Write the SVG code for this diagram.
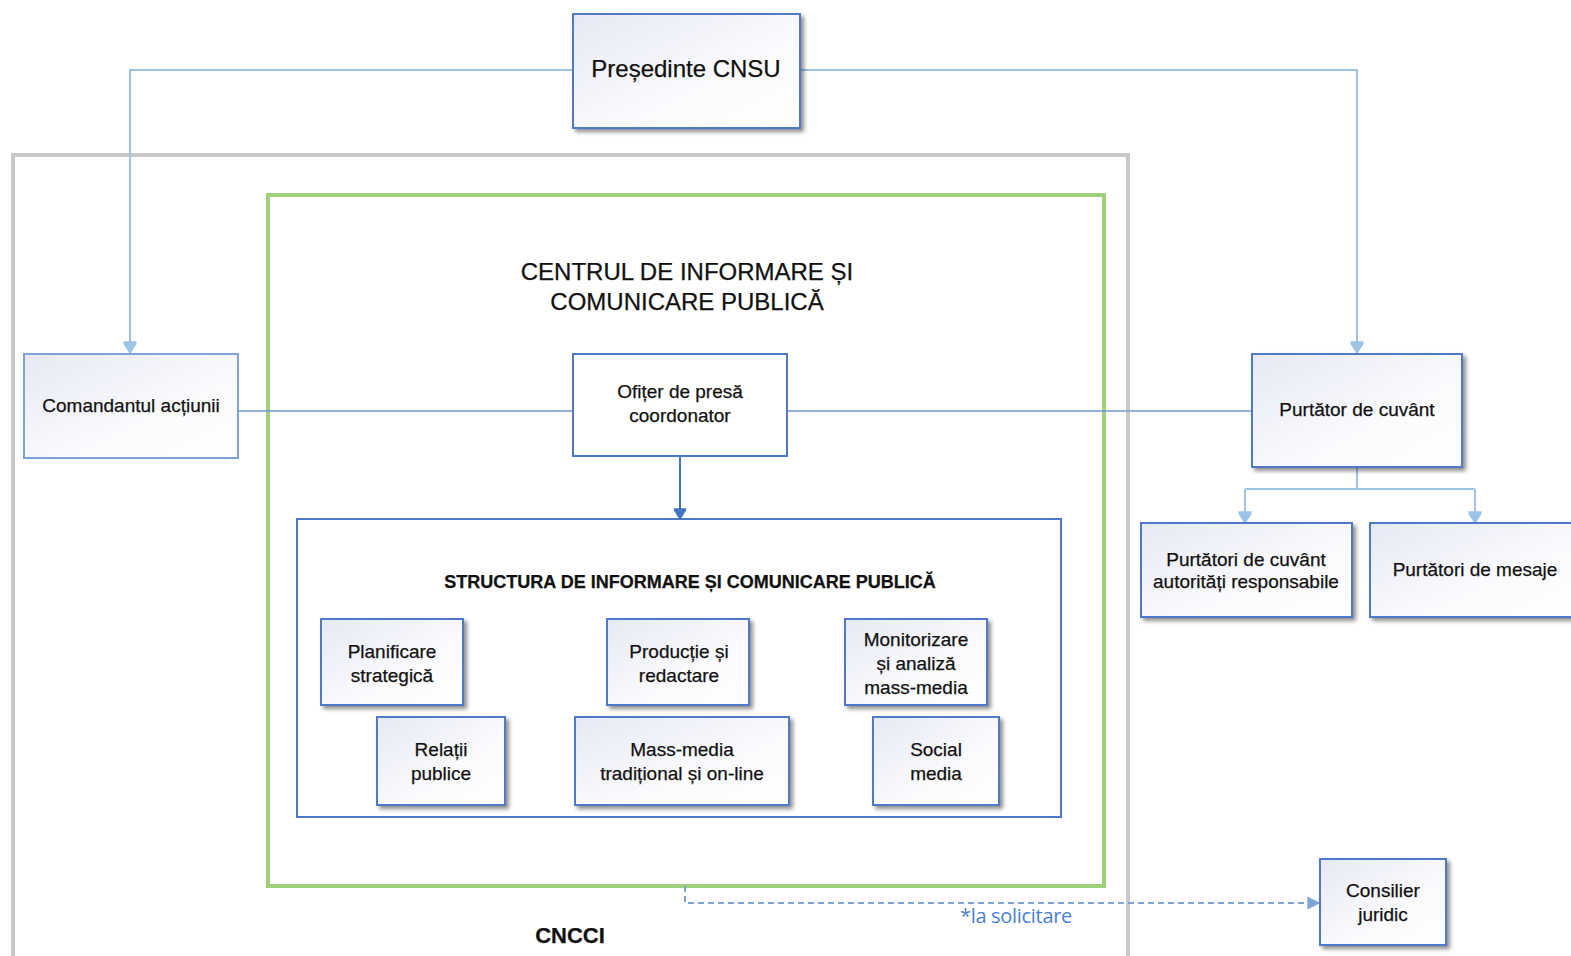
<svg xmlns="http://www.w3.org/2000/svg" width="1571" height="956" viewBox="0 0 1571 956">
<defs>
<linearGradient id="g" x1="0" y1="0" x2="1" y2="1">
<stop offset="0" stop-color="#e6e9f4"/>
<stop offset="0.6" stop-color="#fbfbfe"/>
<stop offset="1" stop-color="#ffffff"/>
</linearGradient>
<filter id="sh" x="-10%" y="-10%" width="125%" height="130%">
<feGaussianBlur in="SourceAlpha" stdDeviation="2"/>
<feOffset dx="3" dy="3"/>
<feComponentTransfer><feFuncA type="linear" slope="0.45"/></feComponentTransfer>
<feMerge><feMergeNode/><feMergeNode in="SourceGraphic"/></feMerge>
</filter>
<marker id="al" viewBox="0 0 10 10" refX="9" refY="5" markerWidth="13" markerHeight="15" markerUnits="userSpaceOnUse" orient="auto">
<path d="M0,0 L2,0 L10,5 L2,10 L0,10 Z" fill="#9dc3e6"/>
</marker>
<marker id="ad" viewBox="0 0 10 10" refX="9" refY="5" markerWidth="12" markerHeight="14" markerUnits="userSpaceOnUse" orient="auto">
<path d="M0,0 L2,0 L10,5 L2,10 L0,10 Z" fill="#4472c4"/>
</marker>
<marker id="am" viewBox="0 0 10 10" refX="9" refY="5" markerWidth="13" markerHeight="13" markerUnits="userSpaceOnUse" orient="auto">
<path d="M0,0 L10,5 L0,10 Z" fill="#7fa3d6"/>
</marker>
</defs>
<style>
.box{fill:url(#g);stroke:#4f7ac7;stroke-width:2;filter:url(#sh)}
.plain{fill:#ffffff;stroke:#4f7ac7;stroke-width:2}
.t{font-family:"Liberation Sans",Arial,sans-serif;font-size:19px;fill:#111;stroke:#111;stroke-width:0.25;text-anchor:middle}
.lc{fill:none;stroke:#9dc3e6;stroke-width:2}
.dc{fill:none;stroke:#4472c4;stroke-width:2}
</style>
<rect width="1571" height="956" fill="#ffffff"/>

<g id="cncci">
<path d="M13,958 L13,155 L1128,155 L1128,958" fill="none" stroke="#c8c8c8" stroke-width="4"/>
<text x="570" y="943" class="t" style="font-size:22px;font-weight:bold">CNCCI</text>
</g>
<g id="centru">
<rect x="268" y="195" width="836" height="691" fill="none" stroke="#9fd07c" stroke-width="4"/>
<text x="687" y="280" class="t" style="font-size:24px">CENTRUL DE INFORMARE ȘI</text>
<text x="687" y="310" class="t" style="font-size:24px">COMUNICARE PUBLICĂ</text>
</g>

<g id="connectors">
<path class="lc" d="M573,70 L130,70 L130,353" marker-end="url(#al)"/>
<path class="lc" d="M800,70 L1357,70 L1357,353" marker-end="url(#al)"/>
<path d="M238,411 L573,411" fill="none" stroke="#6f97d2" stroke-width="1.5"/>
<path d="M787,411 L1252,411" fill="none" stroke="#6f97d2" stroke-width="1.5"/>
<path class="dc" d="M680,456 L680,519" marker-end="url(#ad)"/>
<path class="lc" d="M1357,467 L1357,489 M1245,489 L1475,489"/>
<path class="lc" d="M1245,489 L1245,523" marker-end="url(#al)"/>
<path class="lc" d="M1475,489 L1475,523" marker-end="url(#al)"/>
<path d="M685,886 L685,903 L1319,903" fill="none" stroke="#7fa3d6" stroke-width="2" stroke-dasharray="6,4" marker-end="url(#am)"/>
<text x="1016" y="923" style="font-family:'Open Sans','Liberation Sans',sans-serif;font-size:20px;fill:#4a7fd4;text-anchor:middle;letter-spacing:-0.3px">*la solicitare</text>
</g>

<g id="presedinte">
<rect x="573" y="14" width="227" height="114" class="box"/>
<text x="686" y="77" class="t" style="font-size:24px">Președinte CNSU</text>
</g>
<g id="comandant">
<rect x="24" y="354" width="214" height="104" class="plain" style="fill:url(#g);stroke:#7fa3d6"/>
<text x="131" y="412" class="t">Comandantul acțiunii</text>
</g>
<g id="ofiter">
<rect x="573" y="354" width="214" height="102" class="plain"/>
<text x="680" y="398" class="t">Ofițer de presă</text>
<text x="680" y="422" class="t">coordonator</text>
</g>
<g id="purtator">
<rect x="1252" y="354" width="210" height="113" class="box"/>
<text x="1357" y="416" class="t">Purtător de cuvânt</text>
</g>
<g id="purtatori-autoritati">
<rect x="1141" y="523" width="211" height="94" class="box"/>
<text x="1246" y="566" class="t">Purtători de cuvânt</text>
<text x="1246" y="588" class="t">autorități responsabile</text>
</g>
<g id="purtatori-mesaje">
<rect x="1370" y="523" width="210" height="94" class="box"/>
<text x="1475" y="576" class="t">Purtători de mesaje</text>
</g>

<g id="structura">
<rect x="297" y="519" width="764" height="298" class="plain"/>
<text x="690" y="588" class="t" style="font-weight:bold;font-size:18px">STRUCTURA DE INFORMARE ȘI COMUNICARE PUBLICĂ</text>
</g>
<g id="planificare">
<rect x="321" y="619" width="142" height="86" class="box"/>
<text x="392" y="658" class="t">Planificare</text>
<text x="392" y="682" class="t">strategică</text>
</g>
<g id="productie">
<rect x="607" y="619" width="142" height="86" class="box"/>
<text x="679" y="658" class="t">Producție și</text>
<text x="679" y="682" class="t">redactare</text>
</g>
<g id="monitorizare">
<rect x="845" y="619" width="142" height="86" class="box"/>
<text x="916" y="646" class="t">Monitorizare</text>
<text x="916" y="670" class="t">și analiză</text>
<text x="916" y="694" class="t">mass-media</text>
</g>
<g id="relatii">
<rect x="377" y="717" width="128" height="88" class="box"/>
<text x="441" y="756" class="t">Relații</text>
<text x="441" y="780" class="t">publice</text>
</g>
<g id="massmedia">
<rect x="575" y="717" width="214" height="88" class="box"/>
<text x="682" y="756" class="t">Mass-media</text>
<text x="682" y="780" class="t">tradițional și on-line</text>
</g>
<g id="social">
<rect x="873" y="717" width="126" height="88" class="box"/>
<text x="936" y="756" class="t">Social</text>
<text x="936" y="780" class="t">media</text>
</g>

<g id="consilier">
<rect x="1320" y="859" width="126" height="86" class="box"/>
<text x="1383" y="897" class="t">Consilier</text>
<text x="1383" y="921" class="t">juridic</text>
</g>
</svg>
